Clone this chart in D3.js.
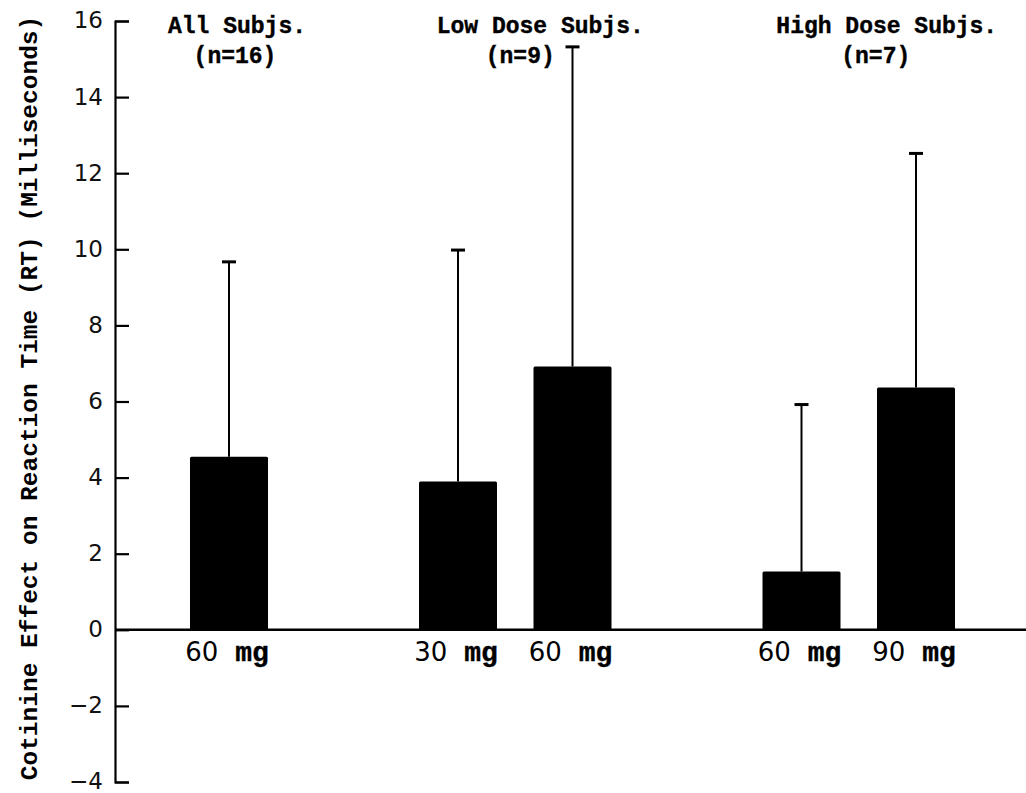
<!DOCTYPE html>
<html>
<head>
<meta charset="utf-8">
<script src="https://cdn.jsdelivr.net/npm/d3@7"></script>
<style>
  body { margin: 0; background: white; }
</style>
</head>
<body>
<div id="vis1"></div>
<script>
// bar data
let barKeys = ["all60", "low30", "low60", "high60", "high90"];
let doseLabels = ["60", "30", "60", "60", "90"];
let means = [4.55, 3.9, 6.92, 1.53, 6.37];
let upper = [9.67, 9.98, 15.32, 5.92, 12.52];
let groupNames = ["All Subjs.", "Low Dose Subjs.", "High Dose Subjs."];
let groupNs = ["(n=16)", "(n=9)", "(n=7)"];
let groupBars = [["all60"], ["low30", "low60"], ["high60", "high90"]];
let yTicks = [-4, -2, 0, 2, 4, 6, 8, 10, 12, 14, 16];

let width = 1026, height = 793;

let svg = d3.select('#vis1')
  .append('svg')
  .attr("width", width)
  .attr("height", height)
  .style('background-color', 'white');

// slot order with empty spacers between groups
let slots = ["all60", "gap1", "low30", "low60", "gap2", "high60", "high90"];
let x = d3.scalePoint().domain(slots).range([229, 916]);
let barW = 78;

let y = d3.scaleLinear().domain([-4, 16]).range([782, 21]);

let axisX = 115;

// zero line
svg.append("line")
  .attr("x1", axisX).attr("x2", width)
  .attr("y1", y(0)).attr("y2", y(0))
  .attr("stroke", "#000").attr("stroke-width", 2.5);

// y axis
let yAxis = svg.append("g")
  .attr("transform", `translate(${axisX},0)`)
  .call(d3.axisLeft(y).tickValues(yTicks).tickSize(-14).tickPadding(12));
yAxis.select(".domain").attr("stroke-width", 2.2);
yAxis.selectAll(".tick line").attr("stroke-width", 2.2);
yAxis.selectAll("text")
  .attr("font-family", "DejaVu Sans")
  .attr("font-size", 23)
  .attr("dy", "0.3em")
  .attr("fill", "#111");

// y axis title
svg.append("text")
  .attr("transform", `translate(37, ${398}) rotate(-90)`)
  .attr("text-anchor", "middle")
  .attr("font-family", "Liberation Mono")
  .attr("font-weight", "bold")
  .attr("font-size", 24.5)
  .text("Cotinine Effect on Reaction Time (RT) (Milliseconds)");

let bars = barKeys.map((k, i) => ({ key: k, dose: doseLabels[i], mean: means[i], up: upper[i] }));

// error bars
svg.append("g").selectAll("line")
  .data(bars)
  .join("line")
  .attr("x1", d => x(d.key)).attr("x2", d => x(d.key))
  .attr("y1", d => y(d.mean)).attr("y2", d => y(d.up))
  .attr("stroke", "#000").attr("stroke-width", 2);

svg.append("g").selectAll("line")
  .data(bars)
  .join("line")
  .attr("x1", d => x(d.key) - 7).attr("x2", d => x(d.key) + 7)
  .attr("y1", d => y(d.up)).attr("y2", d => y(d.up))
  .attr("stroke", "#000").attr("stroke-width", 3);

// bars
svg.append("g").selectAll("rect")
  .data(bars)
  .join("rect")
  .attr("x", d => x(d.key) - barW / 2)
  .attr("y", d => y(d.mean))
  .attr("width", barW)
  .attr("height", d => y(0) - y(d.mean))
  .attr("rx", 1.5)
  .attr("fill", "#000");

// dose labels under bars
let lab = svg.append("g").selectAll("text")
  .data(bars)
  .join("text")
  .attr("x", d => x(d.key) - 2)
  .attr("y", 661)
  .attr("text-anchor", "middle")
  .attr("font-size", 26);
lab.append("tspan")
  .attr("font-family", "DejaVu Sans")
  .text(d => d.dose);
lab.append("tspan")
  .attr("font-family", "Liberation Mono")
  .attr("font-weight", "bold")
  .attr("font-size", 28)
  .attr("stroke", "#000")
  .attr("stroke-width", 0.4)
  .text(" mg");

// group headers
let groups = groupNames.map((g, i) => ({
  name: g, n: groupNs[i],
  cx: d3.mean(groupBars[i], k => x(k))
}));
let headerShift = [8, 25, 28];
let nShift = [6, 5, 17];

svg.append("g").selectAll("text")
  .data(groups)
  .join("text")
  .attr("x", (d, i) => d.cx + headerShift[i])
  .attr("y", 33)
  .attr("text-anchor", "middle")
  .attr("font-family", "Liberation Mono")
  .attr("font-weight", "bold")
  .attr("font-size", 23)
  .attr("stroke", "#000")
  .attr("stroke-width", 0.4)
  .text(d => d.name);

svg.append("g").selectAll("text")
  .data(groups)
  .join("text")
  .attr("x", (d, i) => d.cx + nShift[i])
  .attr("y", 63)
  .attr("text-anchor", "middle")
  .attr("font-family", "Liberation Mono")
  .attr("font-weight", "bold")
  .attr("font-size", 23)
  .attr("stroke", "#000")
  .attr("stroke-width", 0.4)
  .text(d => d.n);
</script>
</body>
</html>
